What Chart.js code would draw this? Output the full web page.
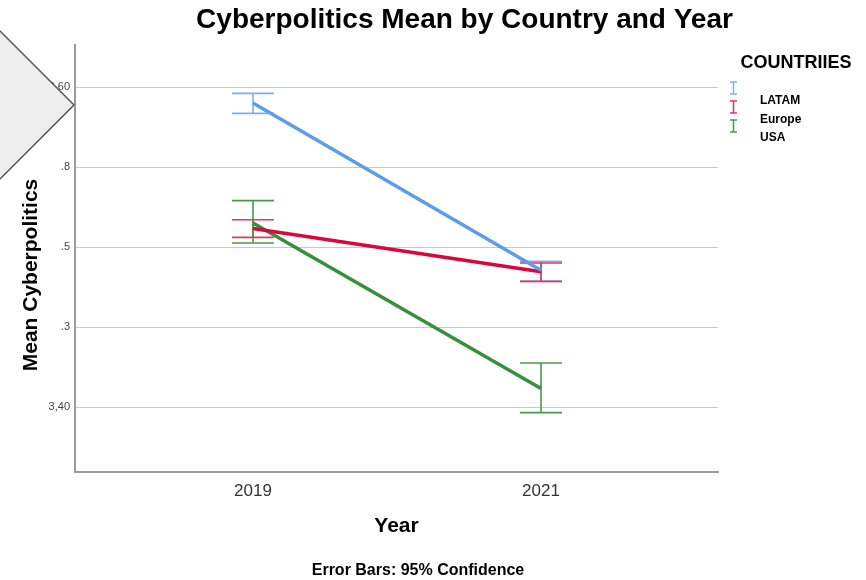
<!DOCTYPE html>
<html>
<head>
<meta charset="utf-8">
<title>Cyberpolitics Mean by Country and Year</title>
<script src="https://cdn.jsdelivr.net/npm/chart.js@4.4.1/dist/chart.umd.min.js"></script>
<style>
  html, body { margin: 0; padding: 0; background: #fff; }
  #wrap { position: relative; width: 866px; height: 580px; }
</style>
</head>
<body>
<div id="wrap"><canvas id="chartMedias"></canvas></div>
<script>
// ── DATOS ─────────────────────────────────────────────
const years = [2019, 2021];
const countries = ['LATAM', 'Europe', 'USA'];

// medias e intervalos de confianza 95% (unidades del eje)
const latamMean  = [3.80, 1.71];
const latamLow   = [3.67, 1.57];
const latamHigh  = [3.92, 1.82];
const europeMean = [2.23, 1.69];
const europeLow  = [2.12, 1.57];
const europeHigh = [2.34, 1.80];
const usaMean    = [2.30, 0.23];
const usaLow     = [2.05, -0.07];
const usaHigh    = [2.58, 0.55];

const yTickValues = [0, 1, 2, 3, 4];
const yTickLabels = ['3,40', '.3', '.5', '.8', '3,60'];

const series = [
  { mean: latamMean,  low: latamLow,  high: latamHigh },
  { mean: europeMean, low: europeLow, high: europeHigh },
  { mean: usaMean,    low: usaLow,    high: usaHigh },
];

// ── ESTILOS ──────────────────────────────────────────
const colores      = ['#5b9ded', '#d6083e', '#34913a'];
const coloresBarra = ['#7ab0f0', '#dc3a64', '#469c46'];
const FUENTE = '"Liberation Sans", Arial, sans-serif';
Chart.defaults.font.family = FUENTE;

// ── PLUGIN: barras de error ──────────────────────────
const barrasError = {
  id: 'barrasError',
  beforeDatasetsDraw(chart) {
    const { ctx, scales: { x, y } } = chart;
    ctx.save();
    ctx.lineWidth = 1.6;
    series.forEach((s, k) => {
      ctx.strokeStyle = coloresBarra[k];
      years.forEach((yr, i) => {
        const px = x.getPixelForValue(yr);
        const top = y.getPixelForValue(s.high[i]);
        const bot = y.getPixelForValue(s.low[i]);
        ctx.beginPath();
        ctx.moveTo(px, top); ctx.lineTo(px, bot);
        ctx.moveTo(px - 21, top); ctx.lineTo(px + 21, top);
        ctx.moveTo(px - 21, bot); ctx.lineTo(px + 21, bot);
        ctx.stroke();
      });
    });
    ctx.restore();
  }
};

// ── PLUGIN: textos, leyenda y recuadro gris ──────────
const decoracion = {
  id: 'decoracion',
  afterDraw(chart) {
    const { ctx } = chart;
    ctx.save();
    ctx.fillStyle = '#000';
    ctx.textAlign = 'center';
    ctx.textBaseline = 'middle';

    // título
    ctx.font = 'bold 28px ' + FUENTE;
    ctx.fillText('Cyberpolitics Mean by Country and Year', 464.5, 20);

    // título eje Y
    ctx.save();
    ctx.translate(31, 275);
    ctx.rotate(-Math.PI / 2);
    ctx.font = 'bold 21px ' + FUENTE;
    ctx.fillText('Mean Cyberpolitics', 0, 0);
    ctx.restore();

    // pie
    ctx.font = 'bold 16px ' + FUENTE;
    ctx.fillText('Error Bars: 95% Confidence', 418, 571);

    // leyenda
    ctx.font = 'bold 18px ' + FUENTE;
    ctx.fillText('COUNTRIIES', 796, 63);
    ctx.font = 'bold 12px ' + FUENTE;
    ctx.textAlign = 'left';
    countries.forEach((c, k) => {
      const iy = 88 + k * 19;
      ctx.strokeStyle = coloresBarra[k];
      ctx.lineWidth = 1.5;
      ctx.beginPath();
      ctx.moveTo(733.5, iy - 6); ctx.lineTo(733.5, iy + 6);
      ctx.moveTo(730, iy - 6); ctx.lineTo(737, iy - 6);
      ctx.moveTo(730, iy + 6); ctx.lineTo(737, iy + 6);
      ctx.stroke();
      ctx.fillText(c, 760, 101 + k * 18.5);
    });

    // recuadro gris superpuesto
    ctx.beginPath();
    ctx.moveTo(-2, 29);
    ctx.lineTo(74, 105);
    ctx.lineTo(-2, 181);
    ctx.closePath();
    ctx.fillStyle = '#ededed';
    ctx.fill();
    ctx.strokeStyle = '#555';
    ctx.lineWidth = 1.5;
    ctx.stroke();
    ctx.restore();
  }
};

// ── GRÁFICO ──────────────────────────────────────────
new Chart(document.getElementById('chartMedias'), {
  type: 'line',
  data: {
    datasets: countries.map((c, k) => ({
      label: c,
      data: years.map((yr, i) => ({ x: yr, y: series[k].mean[i] })),
      borderColor: colores[k],
      backgroundColor: colores[k],
      borderWidth: 3.5,
      pointRadius: 0,
      tension: 0,
      yAxisID: 'y',
    }))
  },
  options: {
    responsive: true,
    maintainAspectRatio: false,
    animation: false,
    layout: { padding: { left: 0, right: 0, top: 45, bottom: 0 } },
    plugins: {
      legend: { display: false },
      tooltip: { enabled: false },
    },
    scales: {
      x: {
        type: 'linear',
        min: 2017.764,
        max: 2022.229,
        afterBuildTicks: s => { s.ticks = years.map(v => ({ value: v })); },
        afterFit: s => { s.height = 108; },
        grid: { display: false, drawTicks: false },
        border: { display: true, color: '#9a9a9a', width: 2 },
        ticks: { callback: v => String(v), color: '#333', font: { size: 17 }, padding: 9, maxRotation: 0 },
        title: { display: true, text: 'Year', color: '#000', font: { size: 21, weight: 'bold' }, padding: { top: 0, bottom: 41 } },
      },
      y: {
        position: 'left',
        min: -0.8125,
        max: 4.525,
        afterBuildTicks: s => { s.ticks = yTickValues.map(v => ({ value: v })); },
        afterFit: s => { s.width = 75; },
        grid: { color: '#c8c8c8', lineWidth: 1, drawTicks: false },
        border: { display: true, color: '#9a9a9a', width: 2 },
        ticks: { callback: (v, i) => yTickLabels[i], color: '#444', font: { size: 11 }, padding: 5 },
      },
      yDer: {
        position: 'right',
        afterFit: s => { s.width = 148; },
        grid: { display: false, drawTicks: false },
        border: { display: false },
        ticks: { display: false },
      },
    },
  },
  plugins: [barrasError, decoracion],
});
</script>
</body>
</html>
